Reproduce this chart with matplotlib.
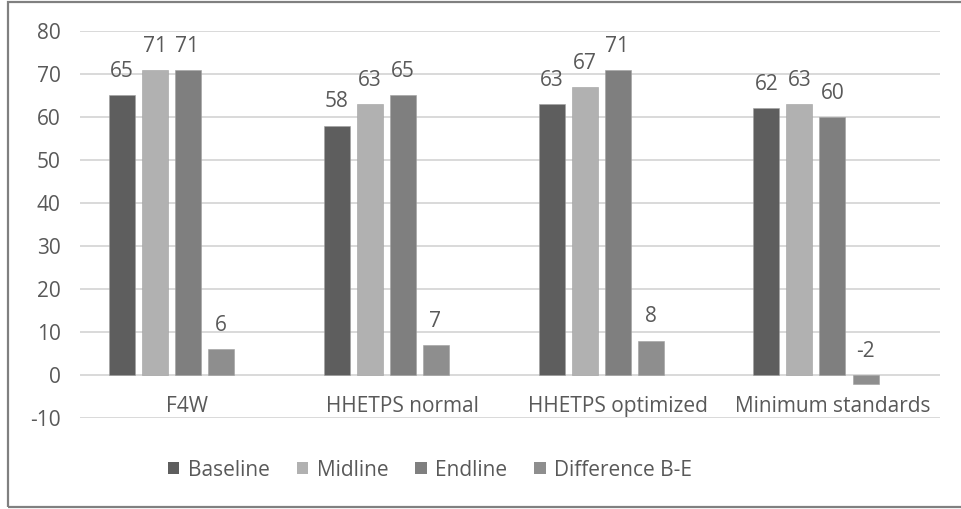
import matplotlib
matplotlib.use("Agg")
import matplotlib.pyplot as plt
from matplotlib.patches import Rectangle, Patch
import numpy as np

plt.rcParams['font.family'] = ['Open Sans', 'DejaVu Sans']

categories = ["F4W", "HHETPS normal", "HHETPS optimized", "Minimum standards"]
series_names = ["Baseline", "Midline", "Endline", "Difference B-E"]
baseline = [65, 58, 63, 62]
midline = [71, 63, 67, 63]
endline = [71, 65, 71, 60]
difference = [6, 7, 8, -2]
series_values = [baseline, midline, endline, difference]
colors = ["#5e5e5e", "#b1b1b1", "#7f7f7f", "#8e8e8e"]
yticks = [-10, 0, 10, 20, 30, 40, 50, 60, 70, 80]

text_color = "#595959"
grid_color = "#d9d9d9"
fs = 15

W, H = 962, 509
fig = plt.figure(figsize=(W / 100, H / 100), dpi=100)

# outer chart frame
fig.patches.append(Rectangle((8 / W, 1 - 507 / H), 1.2, (507 - 2) / H,
                             transform=fig.transFigure, fill=False,
                             edgecolor="#808080", linewidth=1.6, zorder=0))

ax = fig.add_axes([80 / W, 1 - 418 / H, 860 / W, 387 / H])
ax.set_xlim(-0.5, 3.5)
ax.set_ylim(-10, 80)
for s in ax.spines.values():
    s.set_visible(False)
ax.set_yticks(yticks)
ax.set_yticklabels([str(t) for t in yticks])
ax.tick_params(axis='y', length=0, pad=14, labelsize=fs, labelcolor=text_color)
ax.set_xticks([])
ax.yaxis.grid(True, color=grid_color, linewidth=1.4)
ax.set_axisbelow(True)

x = np.arange(len(categories))
slot = 33 / 215
width = 26 / 215
n_slots = 5  # clustered layout reserves five positions per group
for i, (vals, col) in enumerate(zip(series_values, colors)):
    offs = (i - (n_slots - 1) / 2) * slot
    ax.bar(x + offs, vals, width=width, color=col,
           edgecolor="#a0a0a0", linewidth=0.4, zorder=3, label=series_names[i])
    for xi, v in zip(x + offs, vals):
        ax.annotate(str(v), (xi, max(v, 0)), xytext=(0, 17), textcoords="offset points",
                    ha="center", va="center", fontsize=fs, color=text_color)

for xi, c in zip(x, categories):
    ax.annotate(c, (xi, 0), xytext=(0, -23), textcoords="offset points",
                ha="center", va="center", fontsize=fs, color=text_color)

handles = [Patch(facecolor=c, edgecolor="none") for c in colors]
fig.legend(handles, series_names, loc="center", bbox_to_anchor=(430 / W, 1 - 470 / H),
           ncol=4, frameon=False, fontsize=fs, labelcolor=text_color,
           handlelength=0.55, handleheight=0.55, handletextpad=0.4, columnspacing=1.3)

fig.savefig("out.png", dpi=100)
